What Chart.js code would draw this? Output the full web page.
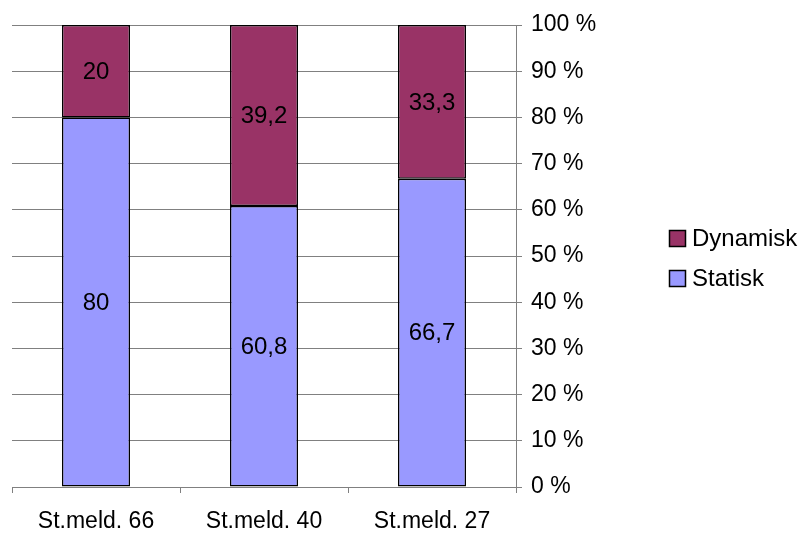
<!DOCTYPE html>
<html>
<head>
<meta charset="utf-8">
<script src="https://cdn.jsdelivr.net/npm/chart.js@4.4.1/dist/chart.umd.min.js"></script>
<style>
  html, body { margin: 0; padding: 0; background: #ffffff; }
  #wrap { width: 804px; height: 533px; position: relative; }
</style>
</head>
<body>
<div id="wrap"><canvas id="c" width="804" height="533"></canvas></div>
<script>
// Reports compared
const categories = ['St.meld. 66', 'St.meld. 40', 'St.meld. 27'];
// Share of each type, percent
const statisk = [80, 60.8, 66.7];
const dynamisk = [20, 39.2, 33.3];
// Percentage axis
const yTicks = [0, 10, 20, 30, 40, 50, 60, 70, 80, 90, 100];

const FONT = '"Liberation Sans", Arial, sans-serif';
const fmt = v => String(v).replace('.', ',');

// Value labels centred in each segment
const segmentLabels = {
  id: 'segmentLabels',
  afterDatasetsDraw(chart) {
    const ctx = chart.ctx;
    ctx.save();
    ctx.font = '24px ' + FONT;
    ctx.fillStyle = '#000';
    ctx.textAlign = 'center';
    ctx.textBaseline = 'middle';
    chart.data.datasets.forEach((ds, di) => {
      chart.getDatasetMeta(di).data.forEach((bar, i) => {
        const y = (bar.y + bar.base) / 2;
        ctx.fillText(fmt(ds.data[i]), bar.x, y + 1);
      });
    });
    ctx.restore();
  }
};

// Legend on the right, top entry = last dataset
const sideLegend = {
  id: 'sideLegend',
  afterDraw(chart) {
    const ctx = chart.ctx;
    ctx.save();
    ctx.font = '24px ' + FONT;
    ctx.textBaseline = 'middle';
    const items = chart.data.datasets.slice().reverse();
    items.forEach((ds, k) => {
      const cy = 239 + k * 40;
      ctx.fillStyle = ds.backgroundColor;
      ctx.fillRect(669.5, cy - 8.5, 16, 16);
      ctx.strokeStyle = '#000';
      ctx.lineWidth = 1.5;
      ctx.strokeRect(669.5, cy - 8.5, 16, 16);
      ctx.fillStyle = '#000';
      ctx.fillText(ds.label, 692, cy);
    });
    ctx.restore();
  }
};

new Chart(document.getElementById('c'), {
  type: 'bar',
  data: {
    labels: categories,
    datasets: [
      { label: 'Statisk', data: statisk, backgroundColor: '#9999FF',
        borderColor: '#000', borderWidth: 1.5, borderSkipped: false },
      { label: 'Dynamisk', data: dynamisk, backgroundColor: '#993366',
        borderColor: '#000', borderWidth: 1.5, borderSkipped: false }
    ]
  },
  options: {
    responsive: false,
    animation: false,
    devicePixelRatio: 1,
    layout: { padding: { left: 12, top: 25, right: 0, bottom: 0 } },
    datasets: { bar: { categoryPercentage: 1, barPercentage: 0.405 } },
    plugins: { legend: { display: false }, tooltip: { enabled: false } },
    scales: {
      x: {
        stacked: true,
        offset: true,
        grid: { offset: true, drawOnChartArea: false, drawTicks: true, tickLength: 6, color: '#808080', lineWidth: 1 },
        border: { display: true, color: '#808080', width: 1 },
        ticks: { color: '#000', font: { family: FONT, size: 23 }, padding: 15 },
        afterFit(s) { s.height = 46; }
      },
      y: {
        stacked: true,
        position: 'right',
        min: 0, max: 100,
        afterBuildTicks(s) { s.ticks = yTicks.map(v => ({ value: v })); },
        grid: { color: '#808080', lineWidth: 1, tickLength: 6, drawTicks: true },
        border: { display: true, color: '#808080', width: 1 },
        ticks: { color: '#000', font: { family: FONT, size: 23 }, padding: 9,
                 callback: v => v + ' %' },
        afterFit(s) { s.width = 288; }
      }
    }
  },
  plugins: [segmentLabels, sideLegend]
});
</script>
</body>
</html>
